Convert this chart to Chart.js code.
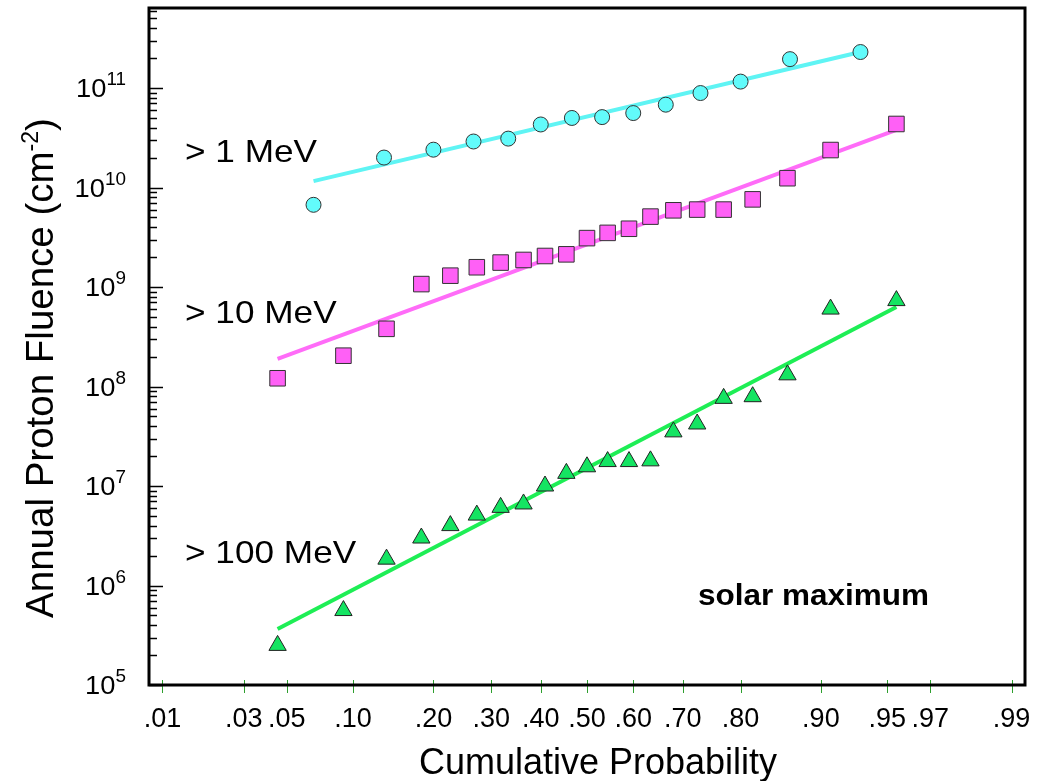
<!DOCTYPE html>
<html>
<head>
<meta charset="utf-8">
<script src="https://cdn.jsdelivr.net/npm/chart.js@4.4.1/dist/chart.umd.min.js"></script>
<style>
  body { margin: 0; background: #fff; }
  #wrap { width: 1053px; height: 781px; }
</style>
</head>
<body>
<div id="wrap"><canvas id="chart" width="1053" height="781"></canvas></div>
<script>
// cumulative probability of each ranked year
var prob1MeV = [0.067, 0.133, 0.200, 0.267, 0.333, 0.400, 0.467, 0.533, 0.600, 0.667, 0.733, 0.800, 0.867, 0.933];
var prob10MeV = [0.045, 0.091, 0.136, 0.182, 0.227, 0.273, 0.318, 0.364, 0.409, 0.455, 0.500,
                 0.545, 0.591, 0.636, 0.682, 0.727, 0.773, 0.818, 0.864, 0.909, 0.955];
var prob100MeV = [0.045, 0.091, 0.136, 0.182, 0.227, 0.273, 0.318, 0.364, 0.409, 0.455, 0.500,
                  0.545, 0.591, 0.636, 0.682, 0.727, 0.773, 0.818, 0.864, 0.909, 0.955];

// annual fluence (cm^-2)
var flu1MeV = [6.7e9, 2.0e10, 2.4e10, 2.9e10, 3.1e10, 4.3e10, 5.0e10, 5.1e10, 5.6e10, 6.8e10, 8.9e10,
               1.16e11, 1.95e11, 2.3e11];
var flu10MeV = [1.21e8, 2.04e8, 3.8e8, 1.07e9, 1.3e9, 1.58e9, 1.76e9, 1.87e9, 2.05e9, 2.13e9, 3.1e9,
                3.5e9, 3.85e9, 5.1e9, 5.9e9, 6.0e9, 6.0e9, 7.6e9, 1.24e10, 2.38e10, 4.35e10];
var flu100MeV = [2.5e5, 5.6e5, 1.84e6, 3.0e6, 4.0e6, 5.1e6, 6.1e6, 6.6e6, 1.0e7, 1.34e7, 1.56e7,
                 1.76e7, 1.76e7, 1.79e7, 3.5e7, 4.2e7, 7.6e7, 7.9e7, 1.31e8, 6.0e8, 7.3e8];

// fitted lines (end points)
var fitProb1MeV = [0.067, 0.933];
var fitFlu1MeV = [1.16e10, 2.3e11];
var fitProb10MeV = [0.045, 0.955];
var fitFlu10MeV = [1.89e8, 3.8e10];
var fitProb100MeV = [0.045, 0.955];
var fitFlu100MeV = [3.66e5, 6.3e8];

var xTickProbs = [0.01, 0.03, 0.05, 0.10, 0.20, 0.30, 0.40, 0.50, 0.60, 0.70, 0.80, 0.90, 0.95, 0.97, 0.99];
var xTickLabels = ['.01', '.03', '.05', '.10', '.20', '.30', '.40', '.50', '.60', '.70', '.80', '.90', '.95', '.97', '.99'];
var yTickValues = [1e5, 1e6, 1e7, 1e8, 1e9, 1e10, 1e11];

var FONT = '"Liberation Sans", Arial, Helvetica, sans-serif';

// inverse normal CDF (probability paper axis)
function probit(p) {
  var a = [-39.69683028665376, 220.9460984245205, -275.9285104469687, 138.3577518672690, -30.66479806614716, 2.506628277459239];
  var b = [-54.47609879822406, 161.5858368580409, -155.6989798598866, 66.80131188771972, -13.28068155288572];
  var c = [-0.007784894002430293, -0.3223964580411365, -2.400758277161838, -2.549732539343734, 4.374664141464968, 2.938163982698783];
  var d = [0.007784695709041462, 0.3224671290700398, 2.445134137142996, 3.754408661907416];
  var q, r;
  if (p < 0.02425) {
    q = Math.sqrt(-2 * Math.log(p));
    return (((((c[0]*q+c[1])*q+c[2])*q+c[3])*q+c[4])*q+c[5]) / ((((d[0]*q+d[1])*q+d[2])*q+d[3])*q+1);
  }
  if (p > 1 - 0.02425) {
    q = Math.sqrt(-2 * Math.log(1 - p));
    return -(((((c[0]*q+c[1])*q+c[2])*q+c[3])*q+c[4])*q+c[5]) / ((((d[0]*q+d[1])*q+d[2])*q+d[3])*q+1);
  }
  q = p - 0.5; r = q * q;
  return (((((a[0]*r+a[1])*r+a[2])*r+a[3])*r+a[4])*r+a[5])*q / (((((b[0]*r+b[1])*r+b[2])*r+b[3])*r+b[4])*r+1);
}

function pts(probs, flu) {
  return probs.map(function (p, i) { return { x: probit(p), y: flu[i] }; });
}

// text stretched a little wider, like the original lettering
function wideText(ctx, txt, x, y, sx) {
  ctx.save();
  ctx.translate(x, y);
  ctx.scale(sx, 1);
  ctx.fillText(txt, 0, 0);
  ctx.restore();
}

var decorPlugin = {
  id: 'decor',
  afterDraw: function (chart) {
    var ctx = chart.ctx, a = chart.chartArea;
    var xs = chart.scales.x, ys = chart.scales.y;
    ctx.save();
    // inward ticks on the log axis
    ctx.strokeStyle = '#000';
    ctx.lineWidth = 1.5;
    for (var e = 5; e <= 11; e++) {
      for (var m = 1; m <= 9; m++) {
        var v = m * Math.pow(10, e);
        if (v > ys.max) break;
        var py = Math.round(ys.getPixelForValue(v)) + 0.5;
        var len = m === 1 ? 14 : 8;
        ctx.beginPath();
        ctx.moveTo(a.left, py);
        ctx.lineTo(a.left + len, py);
        ctx.stroke();
      }
    }
    // green ticks on the probability axis
    ctx.strokeStyle = '#2f9f2f';
    ctx.lineWidth = 1;
    xTickProbs.forEach(function (p) {
      var px = Math.round(xs.getPixelForValue(probit(p))) + 0.5;
      ctx.beginPath();
      ctx.moveTo(px, a.bottom - 5);
      ctx.lineTo(px, a.bottom + 8);
      ctx.stroke();
    });
    // frame
    ctx.strokeStyle = '#000';
    ctx.lineWidth = 3;
    ctx.strokeRect(a.left, a.top, a.right - a.left, a.bottom - a.top);

    ctx.fillStyle = '#000';
    ctx.textBaseline = 'alphabetic';

    // log axis labels with raised exponent
    ctx.textAlign = 'left';
    ys.ticks.forEach(function (t) {
      var py = ys.getPixelForValue(t.value);
      var ex = String(Math.round(Math.log10(t.value)));
      ctx.font = '26px ' + FONT;
      var w1 = ctx.measureText('10').width * 1.05;
      ctx.font = '18px ' + FONT;
      var w2 = ctx.measureText(ex).width * 1.05;
      var x0 = a.left - 23 - w1 - w2;
      ctx.font = '26px ' + FONT;
      wideText(ctx, '10', x0, py + 9, 1.05);
      ctx.font = '18px ' + FONT;
      wideText(ctx, ex, x0 + w1, py - 3, 1.05);
    });

    // axis titles
    ctx.font = '36px ' + FONT;
    ctx.textAlign = 'center';
    ctx.fillText('Cumulative Probability', 598, 774);

    ctx.save();
    ctx.translate(53, 368);
    ctx.rotate(-Math.PI / 2);
    var main = 'Annual Proton Fluence (cm';
    ctx.font = '38.5px ' + FONT;
    var w1 = ctx.measureText(main).width;
    var w3 = ctx.measureText(')').width;
    ctx.font = '23px ' + FONT;
    var w2 = ctx.measureText('-2').width;
    var x0 = -(w1 + w2 + w3) / 2;
    ctx.textAlign = 'left';
    ctx.font = '38.5px ' + FONT;
    ctx.fillText(main, x0, 0);
    ctx.font = '23px ' + FONT;
    ctx.fillText('-2', x0 + w1, -15);
    ctx.font = '38.5px ' + FONT;
    ctx.fillText(')', x0 + w1 + w2, 0);
    ctx.restore();

    // series labels
    ctx.textAlign = 'left';
    ctx.font = '32px ' + FONT;
    wideText(ctx, '> 1 MeV', 185, 162, 1.1);
    wideText(ctx, '> 10 MeV', 185, 323, 1.1);
    wideText(ctx, '> 100 MeV', 185, 563, 1.1);
    ctx.font = 'bold 30px ' + FONT;
    wideText(ctx, 'solar maximum', 698, 605, 1.05);
    ctx.restore();
  }
};

new Chart(document.getElementById('chart'), {
  type: 'scatter',
  data: {
    datasets: [
      { label: 'fit > 1 MeV', data: pts(fitProb1MeV, fitFlu1MeV), showLine: true, pointRadius: 0,
        borderColor: '#5ff4f4', borderWidth: 4, order: 2 },
      { label: 'fit > 10 MeV', data: pts(fitProb10MeV, fitFlu10MeV), showLine: true, pointRadius: 0,
        borderColor: '#ff6cf8', borderWidth: 4, order: 2 },
      { label: 'fit > 100 MeV', data: pts(fitProb100MeV, fitFlu100MeV), showLine: true, pointRadius: 0,
        borderColor: '#1eee55', borderWidth: 4, order: 2 },
      { label: '> 1 MeV', data: pts(prob1MeV, flu1MeV), pointStyle: 'circle', pointRadius: 7.5,
        backgroundColor: '#62fbfb', borderColor: '#333', borderWidth: 1, order: 1 },
      { label: '> 10 MeV', data: pts(prob10MeV, flu10MeV), pointStyle: 'rect', pointRadius: 11,
        backgroundColor: '#ff60f6', borderColor: '#333', borderWidth: 1, order: 1 },
      { label: '> 100 MeV', data: pts(prob100MeV, flu100MeV), pointStyle: 'triangle', pointRadius: 10,
        backgroundColor: '#14e462', borderColor: '#222', borderWidth: 1, order: 1 }
    ]
  },
  options: {
    responsive: false,
    animation: false,
    devicePixelRatio: 1,
    layout: { autoPadding: false, padding: { top: 8, right: 28, left: 0, bottom: 0 } },
    plugins: { legend: { display: false }, tooltip: { enabled: false } },
    scales: {
      x: {
        type: 'linear', min: -2.4, max: 2.4,
        grid: { display: false, drawTicks: false },
        border: { display: false },
        afterBuildTicks: function (s) {
          s.ticks = xTickProbs.map(function (p) { return { value: probit(p) }; });
        },
        afterFit: function (s) { s.height = 96; s.paddingLeft = 0; s.paddingRight = 0; },
        ticks: {
          autoSkip: false, maxRotation: 0, minRotation: 0, padding: 18, color: '#000',
          font: { size: 27, family: FONT },
          callback: function (v, i) { return xTickLabels[i]; }
        }
      },
      y: {
        type: 'logarithmic', min: 1e5, max: 6.37e11,
        grid: { display: false, drawTicks: false },
        border: { display: false },
        afterBuildTicks: function (s) {
          s.ticks = yTickValues.map(function (v) { return { value: v }; });
        },
        afterFit: function (s) { s.width = 149; s.paddingTop = 0; s.paddingBottom = 0; },
        ticks: { display: false }
      }
    }
  },
  plugins: [decorPlugin]
});
</script>
</body>
</html>
